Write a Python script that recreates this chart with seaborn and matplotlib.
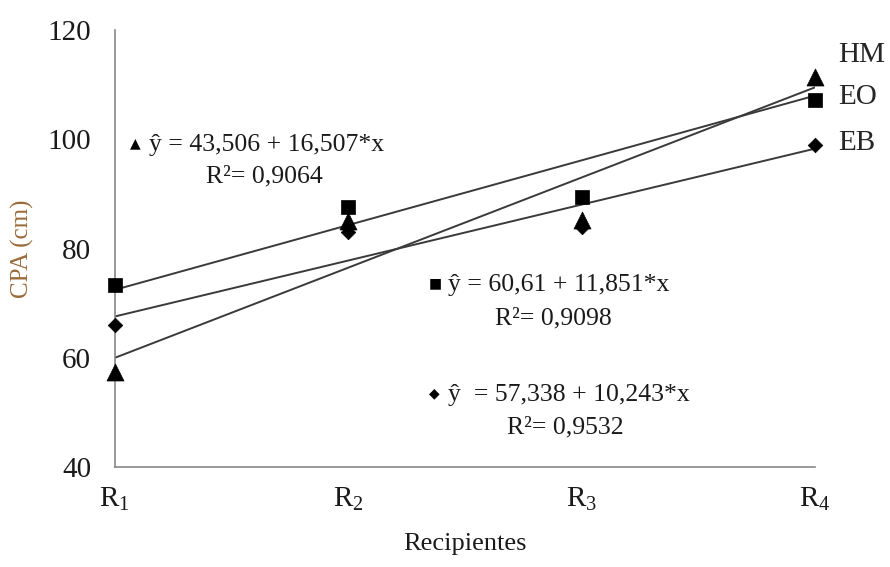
import numpy as np
import pandas as pd
import matplotlib.pyplot as plt
import seaborn as sns

# Data
recipientes = [1, 2, 3, 4]
tick_labels = ["R$_1$", "R$_2$", "R$_3$", "R$_4$"]

hm_values = [57.4, 85.0, 85.2, 111.4]
eo_values = [73.3, 87.6, 89.4, 107.2]
eb_values = [66.0, 83.0, 83.9, 98.9]

# Regression coefficients (intercept, slope)
hm_fit = [43.506, 16.507]
eo_fit = [60.61, 11.851]
eb_fit = [57.338, 10.243]

series = ["HM", "EO", "EB"]
markers = {"HM": "^", "EO": "s", "EB": "D"}
sizes = {"HM": 150, "EO": 110, "EB": 55}

sns.set_style("white")
plt.rcParams["font.family"] = ["Liberation Serif", "DejaVu Sans"]
plt.rcParams["mathtext.fontset"] = "custom"
plt.rcParams["mathtext.rm"] = "Liberation Serif"

df = pd.DataFrame({
    "x": recipientes * 3,
    "CPA": hm_values + eo_values + eb_values,
    "grupo": ["HM"] * 4 + ["EO"] * 4 + ["EB"] * 4,
})

fits = {"HM": hm_fit, "EO": eo_fit, "EB": eb_fit}
xs = np.array([1, 4])
fit_df = pd.concat([
    pd.DataFrame({"x": xs, "CPA": fits[g][0] + fits[g][1] * xs, "grupo": g})
    for g in series
])

fig, ax = plt.subplots(figsize=(8.9, 5.67), dpi=100)
fig.subplots_adjust(left=0.129, right=0.916, top=0.947, bottom=0.176)

for g in series:
    sns.lineplot(data=fit_df[fit_df["grupo"] == g], x="x", y="CPA",
                 color="#3a3a3a", linewidth=1.4, ax=ax, legend=False)

for g in series:
    sub = df[df["grupo"] == g]
    sns.scatterplot(data=sub, x="x", y="CPA", marker=markers[g], s=sizes[g],
                    color="black", edgecolor="black", linewidth=0.5,
                    ax=ax, legend=False, clip_on=False, zorder=3)

ax.set_xlim(1, 4)
ax.set_ylim(40, 120)
ax.set_yticks([40, 60, 80, 100, 120])
ax.set_xticks(recipientes)
ax.set_xticklabels(tick_labels)
ax.tick_params(axis="both", labelsize=21, colors="#1a1a1a", length=8,
               width=1, direction="out")
ax.tick_params(axis="x", pad=5, color="#777777")
ax.tick_params(axis="y", pad=9, color="#777777")
for side in ["top", "right"]:
    ax.spines[side].set_visible(False)
for side in ["left", "bottom"]:
    ax.spines[side].set_color("#888888")
    ax.spines[side].set_linewidth(1.2)

ax.set_xlabel("Recipientes", fontsize=19, color="#1a1a1a", labelpad=14)
ax.set_ylabel("CPA (cm)", fontsize=18, color="#9a6a3a", labelpad=10)

# Series labels at the right end
ax.text(4.1, 115.4, "HM", fontsize=21, va="center", clip_on=False)
ax.text(4.1, 107.7, "EO", fontsize=21, va="center", clip_on=False)
ax.text(4.1, 99.3, "EB", fontsize=21, va="center", clip_on=False)

# Equations
eq_kw = dict(fontsize=18.5, color="#1a1a1a", va="center")
mk_kw = dict(fontsize=10, color="black", va="center", family="DejaVu Sans")
ax.text(1.065, 99.3, "\u25b2", **mk_kw)
ax.text(1.145, 99.0, "\u0177 = 43,506 + 16,507*x", **eq_kw)
ax.text(1.64, 93.2, "R\u00b2= 0,9064", ha="center", **eq_kw)
ax.text(2.345, 73.7, "\u25a0", **mk_kw)
ax.text(2.425, 73.4, "\u0177 = 60,61 + 11,851*x", **eq_kw)
ax.text(2.88, 67.3, "R\u00b2= 0,9098", ha="center", **eq_kw)
ax.text(2.345, 53.6, "\u25c6", **mk_kw)
ax.text(2.425, 53.3, "\u0177  = 57,338 + 10,243*x", **eq_kw)
ax.text(2.93, 47.2, "R\u00b2= 0,9532", ha="center", **eq_kw)

fig.savefig("out.png", dpi=100)
